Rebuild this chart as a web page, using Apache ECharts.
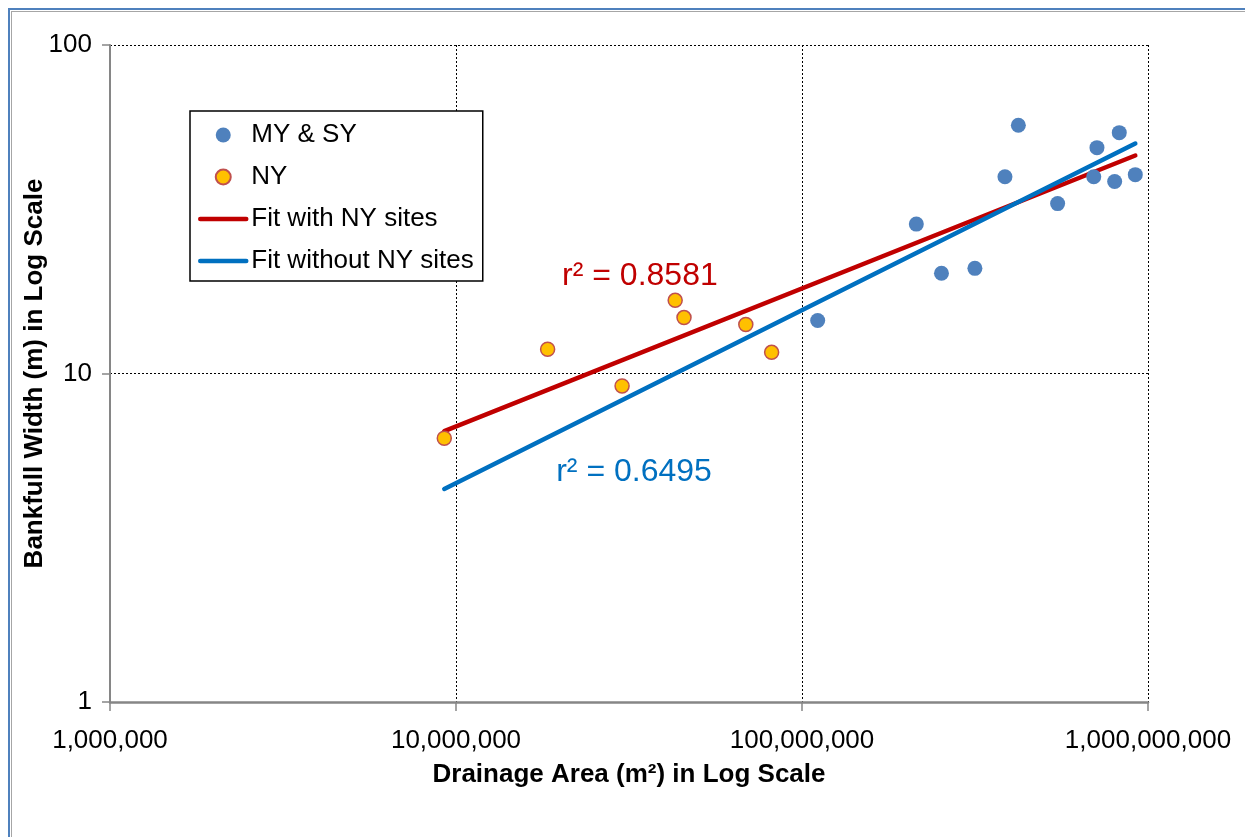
<!DOCTYPE html>
<html><head><meta charset="utf-8">
<script src="https://cdn.jsdelivr.net/npm/echarts@6/dist/echarts.min.js"></script>
<style>
html,body{margin:0;padding:0;background:#fff;overflow:hidden;width:1245px;height:837px}
#frame1{position:absolute;left:8px;top:8px;width:1400px;height:1000px;border-left:2px solid #4F81BD;border-top:2px solid #4F81BD;}
#frame2{position:absolute;left:11px;top:11px;width:1400px;height:1000px;border-left:1px solid #A6A6A6;border-top:1px solid #A6A6A6;}
#chart{position:absolute;left:0;top:0;width:1245px;height:837px}
</style></head><body>
<div id="frame1"></div><div id="frame2"></div><div id="chart"></div>
<script>
// Drainage area (m²) and bankfull width (m)
const myArea  = [1.11e8, 2.14e8, 2.53e8, 3.16e8, 3.86e8, 4.22e8, 5.48e8, 6.97e8, 7.12e8, 8.01e8, 8.26e8, 9.19e8];
const myWidth = [14.5, 28.5, 20.2, 20.9, 39.7, 57.0, 32.9, 39.7, 48.7, 38.4, 54.1, 40.3];
const nyArea  = [9.25e6, 1.84e7, 3.02e7, 4.30e7, 4.56e7, 6.88e7, 8.17e7];
const nyWidth = [6.35, 11.85, 9.16, 16.7, 14.8, 14.1, 11.6];
// Fitted power-law lines (end points)
const fitWithArea  = [9.25e6, 9.19e8];
const fitWithWidth = [6.68, 46.1];
const fitWithoutArea  = [9.25e6, 9.19e8];
const fitWithoutWidth = [4.45, 50.1];
// r² annotations
const r2Text = ['r² = 0.8581', 'r² = 0.6495'];
const r2Area = [3.4e7, 3.27e7];
const r2Width = [19.8, 5.01];
const seriesNames = ['MY & SY', 'NY', 'Fit with NY sites', 'Fit without NY sites'];

const zip = (a, b) => a.map((v, i) => [v, b[i]]);
const FONT = "'Liberation Sans', Arial, sans-serif";

const chart = echarts.init(document.getElementById('chart'), null, {renderer: 'canvas'});
chart.setOption({
  backgroundColor: 'transparent',
  animation: false,
  grid: {left: 110, top: 45, right: 97, bottom: 135, containLabel: false},
  legend: {
    data: [
      {name: seriesNames[0]},
      {name: seriesNames[1]},
      {name: seriesNames[2], itemStyle: {opacity: 0}, lineStyle: {width: 4.5, color: '#C00000'}},
      {name: seriesNames[3], itemStyle: {opacity: 0}, lineStyle: {width: 4.5, color: '#0070C0'}}
    ],
    orient: 'vertical',
    left: 190, top: 111,
    padding: [11, 9, 7, 8],
    itemGap: 16,
    itemWidth: 46,
    itemHeight: 15,
    backgroundColor: '#fff',
    borderColor: '#000',
    borderWidth: 1.5,
    textStyle: {fontFamily: FONT, fontSize: 26, color: '#000'}
  },
  xAxis: {
    type: 'log', logBase: 10, min: 1e6, max: 1e9,
    name: 'Drainage Area (m²) in Log Scale',
    nameLocation: 'middle', nameGap: 60, nameMoveOverlap: false,
    nameTextStyle: {fontFamily: FONT, fontSize: 26, fontWeight: 'bold', color: '#000'},
    axisLine: {lineStyle: {color: '#868686', width: 2.5}},
    axisTick: {show: true, inside: false, length: 9, lineStyle: {color: '#868686', width: 1.5}},
    minorTick: {show: false},
    axisLabel: {fontFamily: FONT, fontSize: 26, color: '#000', margin: 26,
      formatter: v => Math.round(v).toLocaleString('en-US')},
    splitLine: {show: true, lineStyle: {color: '#000', width: 1, type: [2, 2]}}
  },
  yAxis: {
    type: 'log', logBase: 10, min: 1, max: 100,
    name: 'Bankfull Width (m) in Log Scale',
    nameLocation: 'middle', nameGap: 62, nameMoveOverlap: false,
    nameTextStyle: {fontFamily: FONT, fontSize: 26, fontWeight: 'bold', color: '#000'},
    axisLine: {lineStyle: {color: '#868686', width: 2}},
    axisTick: {show: true, inside: false, length: 8, lineStyle: {color: '#868686', width: 1.5}},
    axisLabel: {fontFamily: FONT, fontSize: 26, color: '#000', margin: 18,
      formatter: v => Math.round(v).toLocaleString('en-US')},
    splitLine: {show: true, lineStyle: {color: '#000', width: 1, type: [2, 2]}}
  },
  series: [
    {
      name: seriesNames[0], type: 'scatter', z: 5,
      data: zip(myArea, myWidth), symbol: 'circle', symbolSize: 15,
      itemStyle: {color: '#4F81BD', opacity: 1}
    },
    {
      name: seriesNames[1], type: 'scatter', z: 5,
      data: zip(nyArea, nyWidth), symbol: 'circle', symbolSize: 14,
      itemStyle: {color: '#FFC000', borderColor: '#C0504D', borderWidth: 1.5, opacity: 1}
    },
    {
      name: seriesNames[2], type: 'line', z: 3,
      data: zip(fitWithArea, fitWithWidth), symbol: 'none', showSymbol: false,
      lineStyle: {color: '#C00000', width: 4.5, cap: 'round'},
      itemStyle: {color: '#C00000'}
    },
    {
      name: seriesNames[3], type: 'line', z: 3,
      data: zip(fitWithoutArea, fitWithoutWidth), symbol: 'none', showSymbol: false,
      lineStyle: {color: '#0070C0', width: 4.5, cap: 'round'},
      itemStyle: {color: '#0070C0'}
    },
    {
      name: 'r2labels', type: 'scatter', z: 6, silent: true,
      symbolSize: 0, itemStyle: {opacity: 1},
      data: r2Text.map((t, i) => ({
        value: [r2Area[i], r2Width[i]],
        label: {show: true, position: 'inside', formatter: t,
          fontFamily: FONT, fontSize: 32, color: i === 0 ? '#C00000' : '#0070C0'}
      }))
    }
  ]
});
</script>
</body></html>
